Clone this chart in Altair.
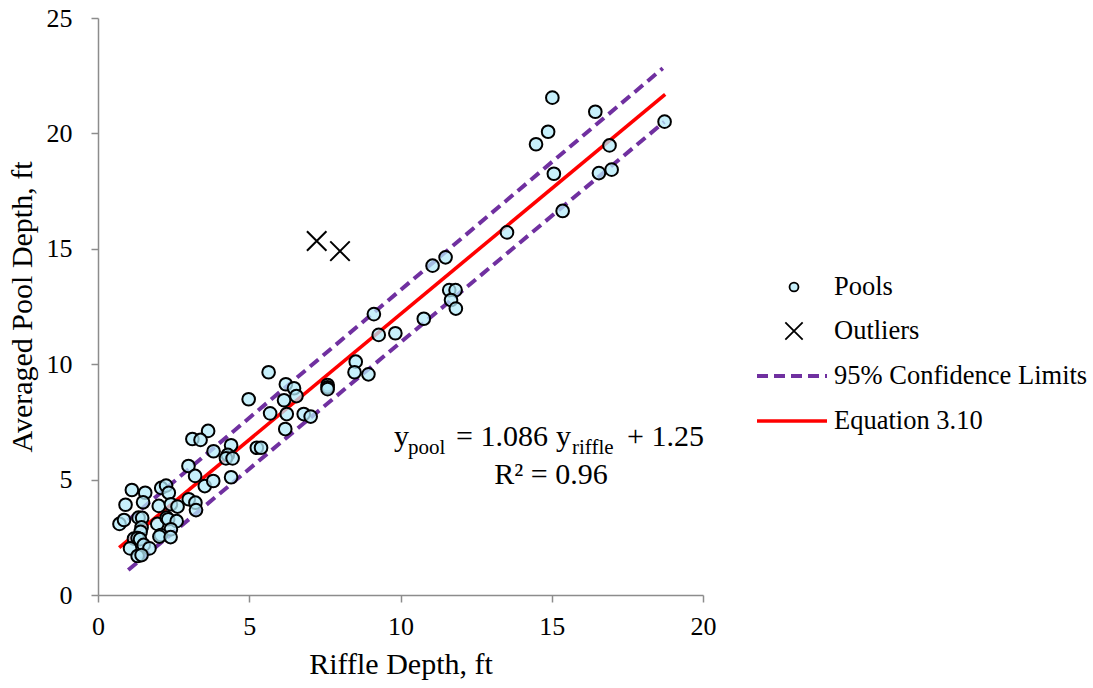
import altair as alt
import pandas as pd

# ---- data ----
pools_x = [15.02, 16.44, 14.88, 14.48, 16.91, 15.07, 16.56, 16.98, 18.73, 15.36, 13.52,
           11.06, 11.49, 11.61, 11.82, 11.67, 11.83, 10.77, 9.12, 9.28, 9.83, 8.52, 8.48,
           8.94, 7.59, 7.59, 7.59, 6.21, 6.48,
           5.64, 6.56, 6.15, 4.98, 5.69, 6.24, 6.80, 7.03, 6.19, 3.64, 3.12, 3.39, 4.40,
           3.82, 5.25, 5.39, 4.29, 4.23, 4.45, 2.99, 3.21, 3.53, 3.81, 4.40,
           1.12, 1.56, 2.09, 2.25, 2.34, 0.91, 1.49, 2.01, 2.41, 2.63, 3.00, 3.22, 3.24,
           0.71, 0.86, 1.34, 1.46, 1.96, 2.27, 2.32, 2.60, 2.41, 2.08, 2.03, 2.40, 1.44,
           1.41, 1.19, 1.31, 1.39, 1.06, 1.51, 1.70, 1.31, 1.44]
pools_y = [21.55, 20.94, 20.07, 19.53, 19.48, 18.25, 18.28, 18.43, 20.51, 16.64, 15.71,
           14.27, 14.63, 13.21, 13.21, 12.78, 12.41, 11.97, 12.17, 11.27, 11.34, 10.11, 9.65,
           9.56, 9.10, 9.00, 8.92, 9.13, 8.96,
           9.65, 8.62, 8.44, 8.48, 7.87, 7.84, 7.84, 7.73, 7.19, 7.11, 6.76, 6.72, 6.49,
           6.23, 6.38, 6.38, 6.07, 5.92, 5.92, 5.59, 5.16, 4.72, 4.94, 5.10,
           4.55, 4.43, 4.64, 4.74, 4.43, 3.91, 4.02, 3.86, 3.93, 3.83, 4.15, 4.00, 3.68,
           3.08, 3.25, 3.35, 3.34, 3.08, 3.35, 3.28, 3.20, 2.85, 2.60, 2.53, 2.51, 2.93,
           2.74, 2.44, 2.47, 2.42, 2.02, 2.17, 2.02, 1.69, 1.73]

outliers_x = [7.23, 8.00]
outliers_y = [15.34, 14.90]

fit_x = [0.70, 18.75]
fit_y = [2.05, 21.69]

upper_x = [1.00, 18.67]
upper_y = [3.24, 22.82]
lower_x = [1.00, 18.72]
lower_y = [1.08, 20.50]

x_ticks = [0, 5, 10, 15, 20]
y_ticks = [0, 5, 10, 15, 20, 25]

legend_labels = ["Pools", "Outliers", "95% Confidence Limits", "Equation 3.10"]

FONT = "Liberation Serif"
W, H = 605, 577
OX, OY = 98, 18  # plot origin in the page

pools = pd.DataFrame({"x": pools_x, "y": pools_y})
outl = pd.DataFrame({"x": outliers_x, "y": outliers_y})
fit = pd.DataFrame({"x": fit_x, "y": fit_y})
upper = pd.DataFrame({"x": upper_x, "y": upper_y})
lower = pd.DataFrame({"x": lower_x, "y": lower_y})
one = pd.DataFrame({"a": [0]})

xs = alt.Scale(domain=[0, 20], nice=False)
ys = alt.Scale(domain=[0, 25], nice=False)

common = dict(grid=False, domainColor="#8c8c8c", domainWidth=1.5, tickColor="#8c8c8c",
              tickWidth=1.5, tickSize=7, labelFont=FONT, labelFontSize=26,
              labelColor="black", labelFlush=False, titleFont=FONT, titleFontSize=30,
              titleFontWeight="normal", titleColor="black")
x_axis = alt.Axis(values=x_ticks, title="Riffle Depth, ft", labelPadding=11,
                  titlePadding=10, **common)
y_axis = alt.Axis(values=y_ticks, title="Averaged Pool Depth, ft", labelPadding=19,
                  titlePadding=9, **common)

X = lambda: alt.X("x:Q", scale=xs, axis=x_axis)
Y = lambda: alt.Y("y:Q", scale=ys, axis=y_axis)

PURPLE = "#7030A0"
RED = "#FF0000"
FILL = "#B4EBFA"
DASH = [11, 6]

upper_l = alt.Chart(upper).mark_line(color=PURPLE, strokeWidth=4, strokeDash=DASH).encode(x=X(), y=Y())
lower_l = alt.Chart(lower).mark_line(color=PURPLE, strokeWidth=4, strokeDash=DASH).encode(x=X(), y=Y())
fit_l = alt.Chart(fit).mark_line(color=RED, strokeWidth=3.6).encode(x=X(), y=Y())

pts = alt.Chart(pools).mark_point(shape="circle", filled=True, size=160,
                                  fill=FILL, fillOpacity=0.75, stroke="black",
                                  strokeWidth=2, opacity=1).encode(x=X(), y=Y())

XPATH = "M -1 -1 L 1 1 M -1 1 L 1 -1"
outs = alt.Chart(outl).mark_point(shape=XPATH, filled=False, size=380, stroke="black",
                                  strokeWidth=2, opacity=1).encode(x=X(), y=Y())

# ---- manual legend (pixel positions relative to plot origin) ----
lg_sym_x = 794 - OX
lg_line_x1, lg_line_x2 = 757 - OX, 827 - OX
lg_text_x = 834 - OX
lg_rows = [287 - OY, 331 - OY, 376 - OY, 421 - OY]

leg = [
    alt.Chart(one).mark_point(shape="circle", filled=True, size=80, fill=FILL,
                              fillOpacity=0.75, stroke="black", strokeWidth=1.8,
                              opacity=1).encode(x=alt.value(lg_sym_x), y=alt.value(lg_rows[0])),
    alt.Chart(one).mark_point(shape=XPATH, filled=False, size=300, stroke="black",
                              strokeWidth=1.8, opacity=1).encode(x=alt.value(lg_sym_x), y=alt.value(lg_rows[1])),
    alt.Chart(one).mark_rule(color=PURPLE, strokeWidth=4, strokeDash=DASH).encode(
        x=alt.value(lg_line_x1), x2=alt.value(lg_line_x2), y=alt.value(lg_rows[2])),
    alt.Chart(one).mark_rule(color=RED, strokeWidth=3.6).encode(
        x=alt.value(lg_line_x1), x2=alt.value(lg_line_x2), y=alt.value(lg_rows[3])),
]
for lab, ry in zip(legend_labels, lg_rows):
    leg.append(alt.Chart(one).mark_text(text=lab, font=FONT, fontSize=26.5, align="left",
                                        baseline="middle", color="black").encode(
        x=alt.value(lg_text_x), y=alt.value(ry)))

# ---- equation annotation ----
eq_base = 446 - OY
sub_base = 454 - OY
eq_parts = [
    ("y", 394, eq_base, 30, "left"),
    ("pool", 408, sub_base, 21, "left"),
    ("= 1.086", 456, eq_base, 30, "left"),
    ("y", 556, eq_base, 30, "left"),
    ("riffle", 572, sub_base, 21, "left"),
    ("+ 1.25", 627, eq_base, 30, "left"),
    ("R\u00b2 = 0.96", 551, 484 - OY, 30, "center"),
]
eq = []
for txt, px, py, fs, al in eq_parts:
    eq.append(alt.Chart(one).mark_text(text=txt, font=FONT, fontSize=fs, align=al,
                                       baseline="alphabetic", color="black").encode(
        x=alt.value(px - OX), y=alt.value(py)))

chart = alt.layer(upper_l, lower_l, fit_l, pts, outs, *leg, *eq).properties(
    width=W, height=H,
    autosize=alt.AutoSizeParams(type="none"),
    padding={"left": OX, "top": OY, "right": 1093 - OX - W, "bottom": 688 - OY - H},
    background="white",
).configure_view(stroke=None)

chart.save("out.html", embed_options={"renderer": "svg", "actions": False})
